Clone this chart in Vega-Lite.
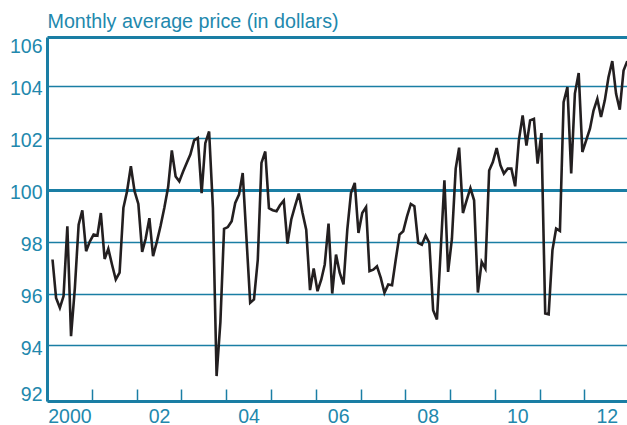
{
  "$schema": "https://vega.github.io/schema/vega-lite/v6.json",
  "width": 580,
  "height": 364,
  "autosize": {"type": "none"},
  "padding": {"left": 47, "top": 37, "right": 0, "bottom": 24},
  "background": "white",
  "config": {"view": {"stroke": null}, "font": "Liberation Sans"},
  "data": {"values": [
    {"date": "2000-02-15", "price": 97.31}, {"date": "2000-03-15", "price": 95.83}, {"date": "2000-04-15", "price": 95.45},
    {"date": "2000-05-15", "price": 95.9}, {"date": "2000-06-15", "price": 98.59}, {"date": "2000-07-15", "price": 94.36},
    {"date": "2000-08-15", "price": 96.2}, {"date": "2000-09-15", "price": 98.65}, {"date": "2000-10-15", "price": 99.2},
    {"date": "2000-11-15", "price": 97.63}, {"date": "2000-12-15", "price": 98.0}, {"date": "2001-01-15", "price": 98.27},
    {"date": "2001-02-15", "price": 98.23}, {"date": "2001-03-15", "price": 99.1}, {"date": "2001-04-15", "price": 97.33},
    {"date": "2001-05-15", "price": 97.72}, {"date": "2001-06-15", "price": 97.1}, {"date": "2001-07-15", "price": 96.54},
    {"date": "2001-08-15", "price": 96.8}, {"date": "2001-09-15", "price": 99.3}, {"date": "2001-10-15", "price": 99.94},
    {"date": "2001-11-15", "price": 100.9}, {"date": "2001-12-15", "price": 99.94}, {"date": "2002-01-15", "price": 99.45},
    {"date": "2002-02-15", "price": 97.6}, {"date": "2002-03-15", "price": 98.1}, {"date": "2002-04-15", "price": 98.9},
    {"date": "2002-05-15", "price": 97.44}, {"date": "2002-06-15", "price": 98.0}, {"date": "2002-07-15", "price": 98.6},
    {"date": "2002-08-15", "price": 99.3}, {"date": "2002-09-15", "price": 100.1}, {"date": "2002-10-15", "price": 101.51},
    {"date": "2002-11-15", "price": 100.51}, {"date": "2002-12-15", "price": 100.32}, {"date": "2003-01-15", "price": 100.7},
    {"date": "2003-02-15", "price": 101.05}, {"date": "2003-03-15", "price": 101.35}, {"date": "2003-04-15", "price": 101.9},
    {"date": "2003-05-15", "price": 101.99}, {"date": "2003-06-15", "price": 99.87}, {"date": "2003-07-15", "price": 101.79},
    {"date": "2003-08-15", "price": 102.24}, {"date": "2003-09-15", "price": 99.3}, {"date": "2003-10-15", "price": 92.82},
    {"date": "2003-11-15", "price": 94.9}, {"date": "2003-12-15", "price": 98.49}, {"date": "2004-01-15", "price": 98.56},
    {"date": "2004-02-15", "price": 98.78}, {"date": "2004-03-15", "price": 99.49}, {"date": "2004-04-15", "price": 99.81},
    {"date": "2004-05-15", "price": 100.64}, {"date": "2004-06-15", "price": 98.1}, {"date": "2004-07-15", "price": 95.64},
    {"date": "2004-08-15", "price": 95.77}, {"date": "2004-09-15", "price": 97.3}, {"date": "2004-10-15", "price": 101.03},
    {"date": "2004-11-15", "price": 101.47}, {"date": "2004-12-15", "price": 99.29}, {"date": "2005-01-15", "price": 99.21},
    {"date": "2005-02-15", "price": 99.17}, {"date": "2005-03-15", "price": 99.4}, {"date": "2005-04-15", "price": 99.58},
    {"date": "2005-05-15", "price": 97.92}, {"date": "2005-06-15", "price": 98.85}, {"date": "2005-07-15", "price": 99.36},
    {"date": "2005-08-15", "price": 99.85}, {"date": "2005-09-15", "price": 99.1}, {"date": "2005-10-15", "price": 98.46},
    {"date": "2005-11-15", "price": 96.13}, {"date": "2005-12-15", "price": 96.96}, {"date": "2006-01-15", "price": 96.09},
    {"date": "2006-02-15", "price": 96.54}, {"date": "2006-03-15", "price": 97.12}, {"date": "2006-04-15", "price": 98.69},
    {"date": "2006-05-15", "price": 96.0}, {"date": "2006-06-15", "price": 97.5}, {"date": "2006-07-15", "price": 96.8},
    {"date": "2006-08-15", "price": 96.35}, {"date": "2006-09-15", "price": 98.46}, {"date": "2006-10-15", "price": 99.87},
    {"date": "2006-11-15", "price": 100.26}, {"date": "2006-12-15", "price": 98.33}, {"date": "2007-01-15", "price": 99.1},
    {"date": "2007-02-15", "price": 99.33}, {"date": "2007-03-15", "price": 96.86}, {"date": "2007-04-15", "price": 96.92},
    {"date": "2007-05-15", "price": 97.05}, {"date": "2007-06-15", "price": 96.6}, {"date": "2007-07-15", "price": 96.03},
    {"date": "2007-08-15", "price": 96.35}, {"date": "2007-09-15", "price": 96.32}, {"date": "2007-10-15", "price": 97.3},
    {"date": "2007-11-15", "price": 98.27}, {"date": "2007-12-15", "price": 98.4}, {"date": "2008-01-15", "price": 98.97},
    {"date": "2008-02-15", "price": 99.45}, {"date": "2008-03-15", "price": 99.36}, {"date": "2008-04-15", "price": 97.95},
    {"date": "2008-05-15", "price": 97.88}, {"date": "2008-06-15", "price": 98.23}, {"date": "2008-07-15", "price": 97.95},
    {"date": "2008-08-15", "price": 95.36}, {"date": "2008-09-15", "price": 95.0}, {"date": "2008-10-15", "price": 97.6},
    {"date": "2008-11-15", "price": 100.36}, {"date": "2008-12-15", "price": 96.83}, {"date": "2009-01-15", "price": 98.1},
    {"date": "2009-02-15", "price": 100.81}, {"date": "2009-03-15", "price": 101.62}, {"date": "2009-04-15", "price": 99.1},
    {"date": "2009-05-15", "price": 99.59}, {"date": "2009-06-15", "price": 100.06}, {"date": "2009-07-15", "price": 99.59},
    {"date": "2009-08-15", "price": 96.04}, {"date": "2009-09-15", "price": 97.22}, {"date": "2009-10-15", "price": 96.96},
    {"date": "2009-11-15", "price": 100.74}, {"date": "2009-12-15", "price": 101.06}, {"date": "2010-01-15", "price": 101.6},
    {"date": "2010-02-15", "price": 100.94}, {"date": "2010-03-15", "price": 100.62}, {"date": "2010-04-15", "price": 100.81},
    {"date": "2010-05-15", "price": 100.81}, {"date": "2010-06-15", "price": 100.13}, {"date": "2010-07-15", "price": 101.9},
    {"date": "2010-08-15", "price": 102.86}, {"date": "2010-09-15", "price": 101.7}, {"date": "2010-10-15", "price": 102.67},
    {"date": "2010-11-15", "price": 102.73}, {"date": "2010-12-15", "price": 101.0}, {"date": "2011-01-15", "price": 102.18},
    {"date": "2011-02-15", "price": 95.23}, {"date": "2011-03-15", "price": 95.2}, {"date": "2011-04-15", "price": 97.67},
    {"date": "2011-05-15", "price": 98.5}, {"date": "2011-06-15", "price": 98.41}, {"date": "2011-07-15", "price": 103.37},
    {"date": "2011-08-15", "price": 103.95}, {"date": "2011-09-15", "price": 100.62}, {"date": "2011-10-15", "price": 103.7},
    {"date": "2011-11-15", "price": 104.49}, {"date": "2011-12-15", "price": 101.45}, {"date": "2012-01-15", "price": 101.9},
    {"date": "2012-02-15", "price": 102.35}, {"date": "2012-03-15", "price": 103.05}, {"date": "2012-04-15", "price": 103.5},
    {"date": "2012-05-15", "price": 102.8}, {"date": "2012-06-15", "price": 103.44}, {"date": "2012-07-15", "price": 104.33},
    {"date": "2012-08-15", "price": 104.95}, {"date": "2012-09-15", "price": 103.69}, {"date": "2012-10-15", "price": 103.08},
    {"date": "2012-11-15", "price": 104.59}, {"date": "2012-12-15", "price": 104.95}
  ]},
  "mark": {"type": "line", "color": "#231f20", "strokeWidth": 2.6},
  "encoding": {
    "x": {
      "field": "date", "type": "temporal",
      "scale": {"type": "utc", "nice": false, "domain": [{"year": 2000, "month": 1, "date": 1, "utc": true}, {"year": 2012, "month": 12, "date": 13, "utc": true}]},
      "axis": {
        "title": null, "grid": false,
        "tickCount": {"interval": "year", "step": 1},
        "ticks": true, "tickSize": -12, "tickWidth": 1.5, "tickColor": "#1a7ea4",
        "domainColor": "#1a7ea4", "domainWidth": 3,
        "labelExpr": "utcyear(datum.value) == 2000 ? '2000' : (utcyear(datum.value) % 2 == 0 ? utcFormat(datum.value, '%y') : '')",
        "labelOffset": 22.4, "labelFlush": false, "labelOverlap": false, "labelBound": false,
        "labelAlign": "center", "labelBaseline": "top", "labelPadding": 18,
        "labelFont": "Liberation Sans", "labelFontSize": 19.5, "labelColor": "#2288ad"
      }
    },
    "y": {
      "field": "price", "type": "quantitative",
      "scale": {"domain": [91.86, 105.88], "nice": false, "zero": false},
      "axis": {
        "values": [92, 94, 96, 98, 100, 102, 104, 105.88],
        "labelExpr": "datum.value > 105 ? '106' : format(datum.value, 'd')",
        "ticks": false, "grid": true, "gridColor": "#1a7ea4",
        "gridWidth": {"expr": "datum.value == 100 || datum.value > 105 ? 3 : 1.3"},
        "gridOpacity": {"expr": "datum.value < 93 ? 0 : 1"},
        "domainColor": "#1a7ea4", "domainWidth": 3,
        "labelFont": "Liberation Sans", "labelFontSize": 19.5, "labelColor": "#2288ad",
        "labelPadding": 5, "labelBaseline": "middle", "labelAlign": "right",
        "labelOffset": {"expr": "datum.value > 105 ? 9 : (datum.value < 93 ? -3 : 3)"},
        "labelFlush": false, "labelOverlap": false, "labelBound": false,
        "title": "Monthly average price (in dollars)",
        "titleAngle": 0, "titleAlign": "left", "titleBaseline": "alphabetic",
        "titleX": 0, "titleY": -10,
        "titleFont": "Liberation Sans", "titleFontSize": 19.7, "titleFontWeight": "normal", "titleColor": "#2288ad"
      }
    }
  }
}
